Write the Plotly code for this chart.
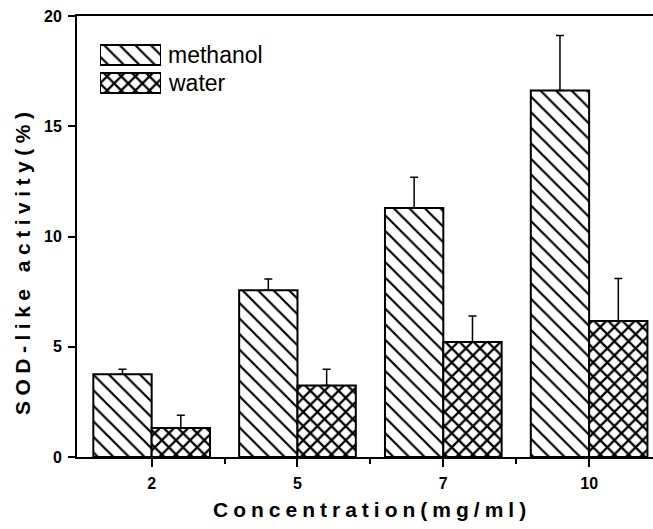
import plotly.graph_objects as go

# ---- data ----
categories = ["2", "5", "7", "10"]
series_names = ["methanol", "water"]
methanol = [3.75, 7.56, 11.29, 16.62]
methanol_err = [0.23, 0.51, 1.40, 2.49]
water = [1.32, 3.24, 5.22, 6.17]
water_err = [0.57, 0.74, 1.18, 1.92]
y_ticks = [0, 5, 10, 15, 20]
x_title = "Concentration(mg/ml)"
y_title = "SOD-like activity(%)"

FONT = "Arial, 'Liberation Sans', sans-serif"
xpos = list(range(len(categories)))

pat_m = dict(shape="\\", size=11, solidity=0.2, fgcolor="black", bgcolor="white", fillmode="replace")
pat_w = dict(shape="x", size=10, solidity=0.4, fgcolor="black", bgcolor="white", fillmode="replace")
line = dict(color="black", width=2)

fig = go.Figure()
fig.add_trace(go.Bar(
    x=xpos, y=methanol, name=series_names[0],
    marker=dict(color="white", pattern=pat_m, line=line),
    error_y=dict(type="data", array=methanol_err, arrayminus=[0] * len(methanol),
                 symmetric=False, color="black", thickness=1.5, width=4),
    showlegend=False,
))
fig.add_trace(go.Bar(
    x=xpos, y=water, name=series_names[1],
    marker=dict(color="white", pattern=pat_w, line=line),
    error_y=dict(type="data", array=water_err, arrayminus=[0] * len(water),
                 symmetric=False, color="black", thickness=1.5, width=4),
    showlegend=False,
))

# inset legend swatches (drawn as horizontal bars on hidden axes)
fig.add_trace(go.Bar(x=[1], y=[1], base=[0], orientation="h", width=0.72,
                     marker=dict(color="white", pattern=pat_m, line=line),
                     xaxis="x2", yaxis="y2", showlegend=False, hoverinfo="skip"))
fig.add_trace(go.Bar(x=[1], y=[0], base=[0], orientation="h", width=0.72,
                     marker=dict(color="white", pattern=pat_w, line=line),
                     xaxis="x2", yaxis="y2", showlegend=False, hoverinfo="skip"))

# plot area in window pixels: x 77..653, y 16..457 (body margin removed below)
W, H = 653, 529
PL, PT, PR, PB = 77, 16, 653, 457
pw, ph = PR - PL, PB - PT

def px(xp):
    return (xp - PL) / pw

def py(yp):
    return (PB - yp) / ph

fig.update_layout(
    width=W, height=H,
    margin=dict(l=PL, r=W - PR, t=PT, b=H - PB, pad=0),
    paper_bgcolor="white", plot_bgcolor="white",
    barmode="group", bargap=0.2, bargroupgap=0,
    font=dict(family=FONT, color="black"),
    xaxis=dict(
        range=[-0.512, 3.438], tickmode="array", tickvals=xpos, ticktext=categories,
        showgrid=False, zeroline=False, showline=True, linecolor="black", linewidth=2,
        mirror=True, ticks="outside", ticklen=8, tickwidth=1.5, tickcolor="black",
        tickfont=dict(size=16, family=FONT, weight="bold"),
        minor=dict(tickmode="array", tickvals=[0.5, 1.5, 2.5], ticks="outside",
                   ticklen=5, tickwidth=1.5, tickcolor="black", showgrid=False),
        ticklabelstandoff=3,
    ),
    yaxis=dict(
        range=[0, 20], tickmode="array", tickvals=y_ticks,
        showgrid=False, zeroline=False, showline=True, linecolor="black", linewidth=2,
        ticks="outside", ticklen=7, tickwidth=1.5, tickcolor="black",
        tickfont=dict(size=16, family=FONT, weight="bold"),
        ticklabelstandoff=3,
    ),
    xaxis2=dict(domain=[px(100), px(161)], range=[0, 1], visible=False, anchor="y2",
                fixedrange=True),
    yaxis2=dict(domain=[py(97), py(41)], range=[-0.5, 1.5], visible=False, anchor="x2",
                fixedrange=True),
    annotations=[
        dict(text=x_title, xref="paper", yref="paper", x=px(372), y=py(509),
             xanchor="center", yanchor="middle", showarrow=False,
             font=dict(size=21, family=FONT, weight="bold")),
        dict(text=y_title, xref="paper", yref="paper", x=px(22), y=py(261),
             xanchor="center", yanchor="middle", showarrow=False, textangle=-90,
             font=dict(size=21, family=FONT, weight="bold")),
        dict(text=series_names[0], xref="paper", yref="paper", x=px(166), y=py(55),
             xanchor="left", yanchor="middle", showarrow=False,
             font=dict(size=23, family=FONT)),
        dict(text=series_names[1], xref="paper", yref="paper", x=px(166), y=py(83),
             xanchor="left", yanchor="middle", showarrow=False,
             font=dict(size=23, family=FONT)),
    ],
)

post = """
document.body.style.margin = '0';
document.body.style.overflow = 'hidden';
var gd = document.getElementById('{plot_id}');
gd.querySelectorAll('text').forEach(function(t){
  var s = t.textContent;
  if (s === 'Concentration(mg/ml)') { t.style.letterSpacing = '5px'; }
  if (s === 'SOD-like activity(%)') { t.style.letterSpacing = '5.5px'; }
});
"""

fig.write_html("out.html", post_script=post, config={"displayModeBar": False})
